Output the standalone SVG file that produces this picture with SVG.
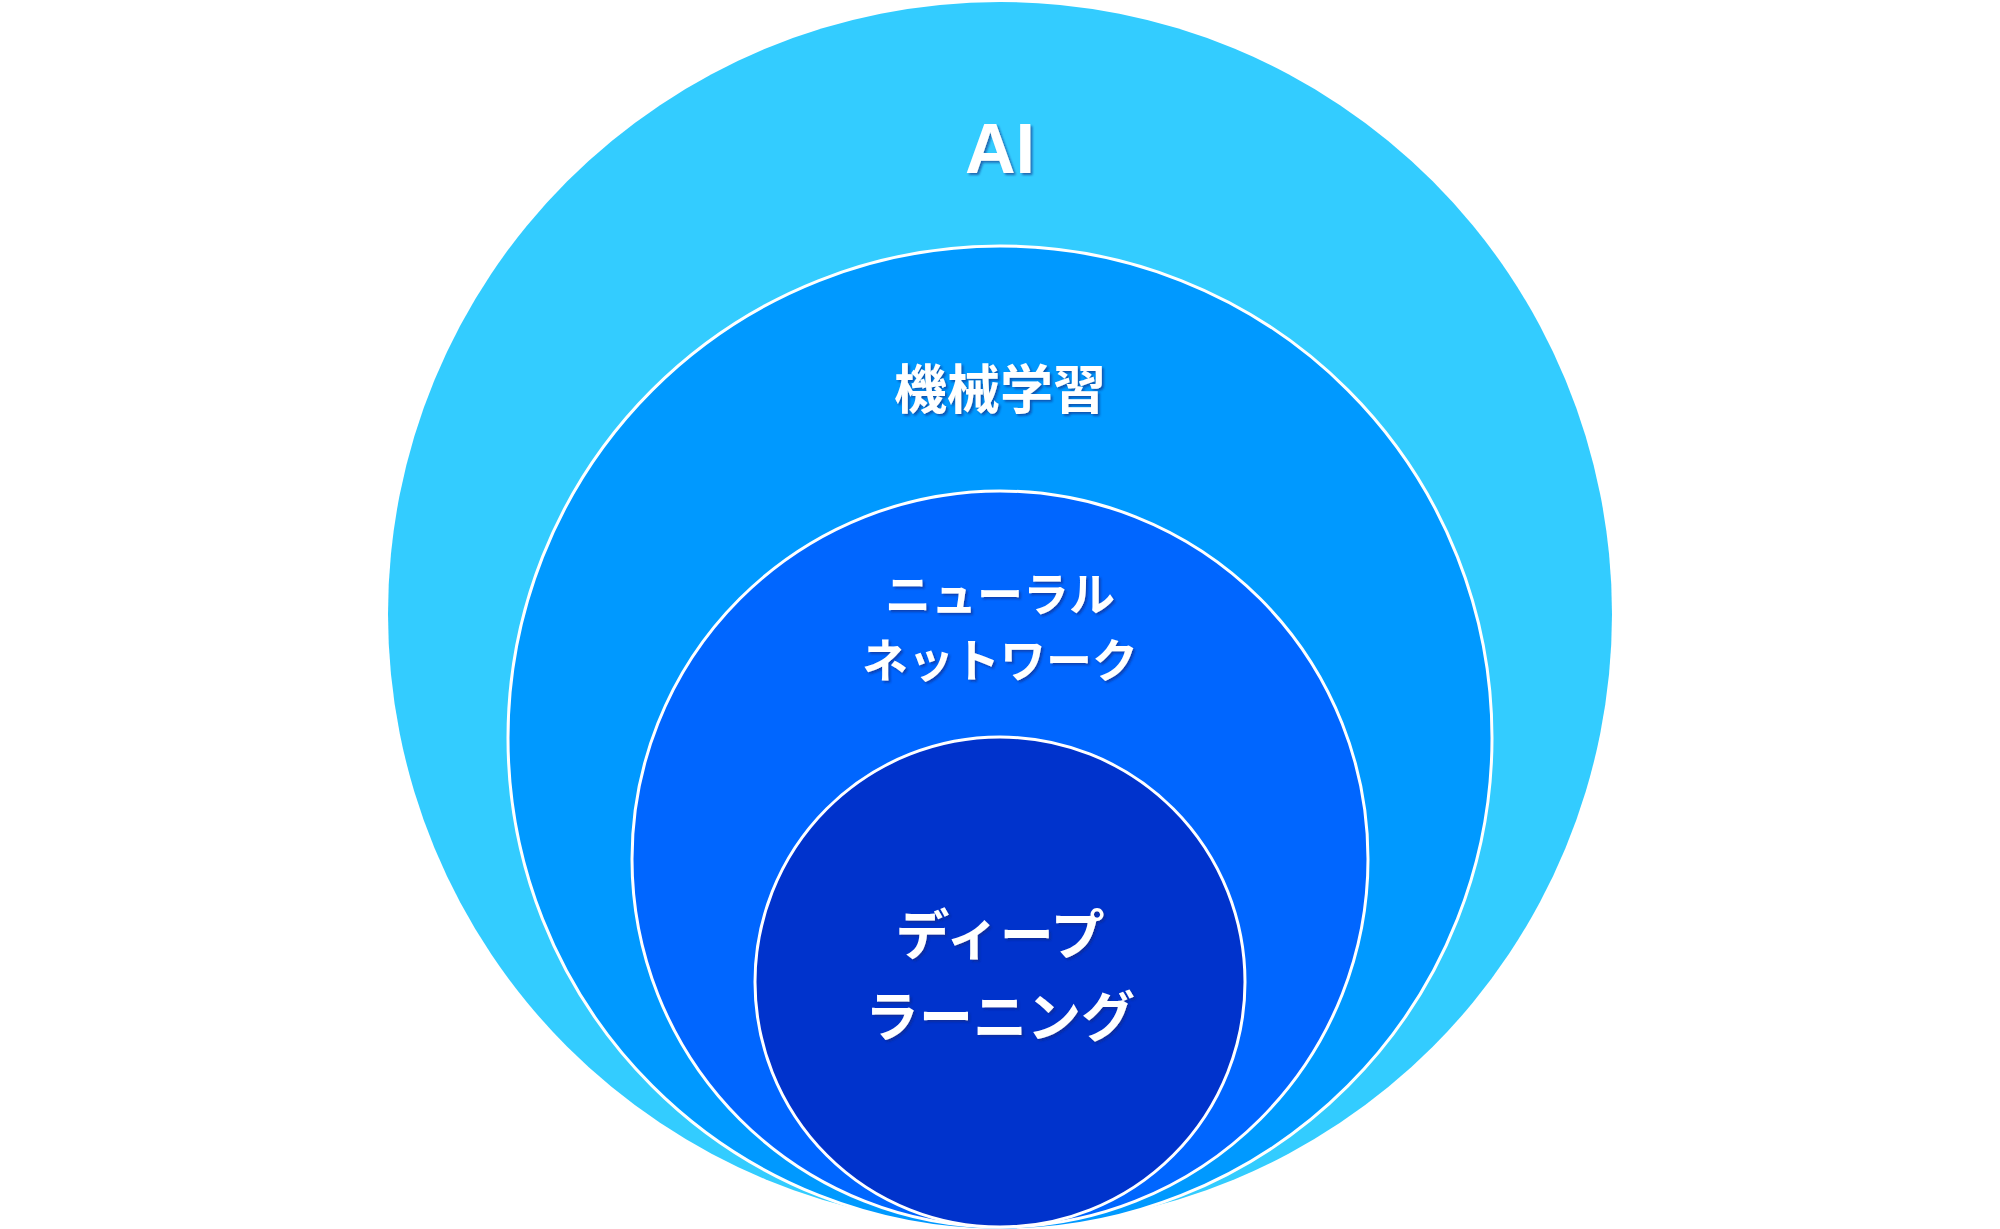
<svg xmlns="http://www.w3.org/2000/svg" width="2000" height="1229" viewBox="0 0 2000 1229">
<defs>
<filter id="sh" x="-20%" y="-20%" width="140%" height="140%">
<feDropShadow dx="2" dy="2" stdDeviation="0.8" flood-color="#0a2680" flood-opacity="0.6"/>
</filter>
</defs>
<style>
.c{stroke:#ffffff;stroke-width:3}
.t{fill:#ffffff;font-weight:700;text-anchor:middle;filter:url(#sh)}
</style>
<rect width="2000" height="1229" fill="#ffffff"/>
<g id="ai">
<circle cx="1000" cy="614" r="612" fill="#33CCFF"/>
<text class="t" x="1000" y="173" font-size="70" font-family="Liberation Sans, Arial, sans-serif">AI</text>
</g>
<g id="ml">
<circle class="c" cx="1000" cy="738" r="492" fill="#0099FF"/>
<text class="t" x="1000" y="409" font-size="53" font-family="Noto Sans CJK JP, sans-serif">機械学習</text>
</g>
<g id="nn">
<circle class="c" cx="1000" cy="859" r="368" fill="#0066FF"/>
<text class="t" x="1000" y="611" font-size="46" font-family="Noto Sans CJK JP, sans-serif">ニューラル</text>
<text class="t" x="1000" y="677" font-size="46" font-family="Noto Sans CJK JP, sans-serif">ネットワーク</text>
</g>
<g id="dl">
<circle class="c" cx="1000" cy="982" r="245" fill="#0033CC"/>
<text class="t" x="1000" y="955" font-size="54" font-family="Noto Sans CJK JP, sans-serif">ディープ</text>
<text class="t" x="1000" y="1037" font-size="54" font-family="Noto Sans CJK JP, sans-serif">ラーニング</text>
</g>
<g id="connectors"></g>
</svg>
